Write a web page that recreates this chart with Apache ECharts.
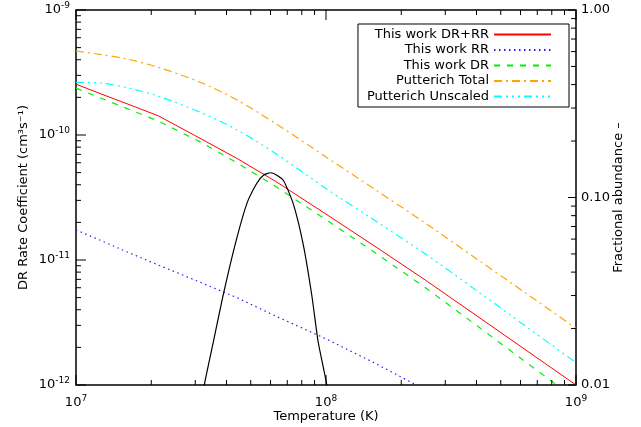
<!DOCTYPE html>
<html>
<head>
<meta charset="utf-8">
<script src="https://cdn.jsdelivr.net/npm/echarts@6/dist/echarts.min.js"></script>
<style>
html,body{margin:0;padding:0;background:#fff;}
#chart{width:641px;height:427px;}
</style>
</head>
<body>
<div id="chart"></div>
<script>
// Temperature grid (K)
const temps = [1e7, 1.26e7, 1.585e7, 2.14e7, 3.16e7, 4.4e7, 6.31e7, 1e8, 1.585e8, 2.51e8, 3.98e8, 6.31e8, 1e9];
// Rate coefficients (cm^3 s^-1)
const thisWorkTotal = [2.55e-10, 2.13e-10, 1.79e-10, 1.42e-10, 9.33e-11, 6.5e-11, 4.24e-11, 2.33e-11, 1.27e-11, 6.86e-12, 3.61e-12, 1.9e-12, 1.0e-12];
const thisWorkRR = [1.74e-11, 1.43e-11, 1.17e-11, 9.1e-12, 6.6e-12, 5.0e-12, 3.55e-12, 2.34e-12, 1.48e-12, 9.1e-13, null, null, null];
const thisWorkDR = [2.37e-10, 1.97e-10, 1.64e-10, 1.29e-10, 8.75e-11, 6.0e-11, 3.86e-11, 2.1e-11, 1.13e-11, 5.97e-12, 3.02e-12, 1.52e-12, 7.7e-13];
const putterichTotal = [4.70e-10, 4.40e-10, 4.07e-10, 3.47e-10, 2.63e-10, 1.91e-10, 1.23e-10, 6.68e-11, 3.62e-11, 1.96e-11, 1.03e-11, 5.41e-12, 2.84e-12];
const putterichUnscaled = [2.64e-10, 2.60e-10, 2.40e-10, 2.04e-10, 1.51e-10, 1.10e-10, 7.08e-11, 3.73e-11, 2.04e-11, 1.11e-11, 5.74e-12, 2.94e-12, 1.51e-12];
// Fractional abundance curve (right axis)
const fracTemps = [3.09e7, 3.26e7, 3.54e7, 3.88e7, 4.33e7, 4.82e7, 5.28e7, 5.62e7, 6.01e7, 6.31e7, 6.75e7, 7.40e7, 8.11e7, 8.77e7, 9.31e7, 1.007e8, 1.047e8];
const fracAbundance = [0.006, 0.010, 0.0169, 0.0302, 0.0561, 0.0925, 0.1187, 0.1315, 0.1355, 0.1324, 0.1235, 0.0925, 0.0561, 0.0302, 0.0169, 0.010, 0.006];
// Tick values
const xMajorTicks = [1e7, 1e8, 1e9];
const xMinorTicks = [2e7,3e7,4e7,5e7,6e7,7e7,8e7,9e7,2e8,3e8,4e8,5e8,6e8,7e8,8e8,9e8];
const yMajorTicks = [1e-12, 1e-11, 1e-10, 1e-9];
const yMinorTicks = [2e-12,3e-12,4e-12,5e-12,6e-12,7e-12,8e-12,9e-12,2e-11,3e-11,4e-11,5e-11,6e-11,7e-11,8e-11,9e-11,2e-10,3e-10,4e-10,5e-10,6e-10,7e-10,8e-10,9e-10];
const fMajorTicks = [0.01, 0.1, 1];
const fMinorTicks = [0.02,0.03,0.04,0.05,0.06,0.07,0.08,0.09,0.2,0.3,0.4,0.5,0.6,0.7,0.8,0.9];

const seriesNames = ['This work DR+RR', 'This work RR', 'This work DR', 'Putterich Total', 'Putterich Unscaled'];

const X_MIN = 1e7, X_MAX = 1e9, Y_MIN = 1e-12, Y_MAX = 1e-9, F_MIN = 0.01, F_MAX = 1;

const FONT = 'DejaVu Sans';
const pair = (xs, ys) => xs.map((x, i) => [x, ys[i]]);
const powLabel = v => '10{sup|' + Math.round(Math.log10(v)) + '}';
const rich = { sup: { fontSize: 9, fontFamily: FONT, color: '#000', verticalAlign: 'bottom', padding: [0, 0, 8, 0] } };
const nameStyle = { fontSize: 13, fontFamily: FONT, color: '#000' };

// Tick marks drawn as a custom series, positioned through the axes' own scales (api.coord)
function tickSeries(data, yAxisIndex, dx, dy) {
  return {
    type: 'custom', xAxisIndex: 0, yAxisIndex: yAxisIndex, silent: true, z: 5, clip: false,
    data: data, encode: { x: 0, y: 1 },
    renderItem: function (params, api) {
      const p = api.coord([api.value(0), api.value(1)]);
      return {
        type: 'line',
        shape: { x1: p[0], y1: p[1], x2: p[0] + dx, y2: p[1] + dy },
        style: { stroke: '#000', lineWidth: 1 }
      };
    }
  };
}

const dashDot = [8, 4, 2, 4];
const dashDotDot = [8, 4, 2, 4, 2, 4, 2, 4];

const option = {
  backgroundColor: '#fff',
  animation: false,
  grid: { left: 76, right: 65, top: 10, bottom: 42, outerBoundsMode: 'none', containLabel: false,
          show: true, borderColor: '#000', borderWidth: 1.5, backgroundColor: 'transparent' },
  legend: {
    orient: 'vertical', right: 72, top: 24, align: 'right',
    data: seriesNames,
    itemWidth: 57, itemHeight: 14, itemGap: 2.5,
    itemStyle: { opacity: 0 },
    padding: [4, 17, 4, 9],
    backgroundColor: '#fff', borderColor: '#000', borderWidth: 1, borderRadius: 0,
    textStyle: { fontSize: 13, fontFamily: FONT, color: '#000' }
  },
  xAxis: [
    {
      type: 'log', min: X_MIN, max: X_MAX, position: 'bottom',
      axisLine: { show: false },
      axisTick: { show: false },
      axisLabel: { formatter: powLabel, rich: rich, margin: 9, color: '#000', fontSize: 13, fontFamily: FONT },
      splitLine: { show: false },
      name: 'Temperature (K)', nameLocation: 'middle', nameGap: 25, nameMoveOverlap: false, nameTextStyle: nameStyle
    }
  ],
  yAxis: [
    {
      type: 'log', min: Y_MIN, max: Y_MAX, position: 'left',
      axisLine: { show: false },
      axisTick: { show: false },
      axisLabel: { formatter: powLabel, rich: rich, margin: 6, color: '#000', fontSize: 13, fontFamily: FONT },
      splitLine: { show: false },
      name: 'DR Rate Coefficient (cm³s⁻¹)', nameLocation: 'middle', nameRotate: 90, nameGap: 46, nameMoveOverlap: false, nameTextStyle: nameStyle
    },
    {
      type: 'log', min: F_MIN, max: F_MAX, position: 'right',
      axisLine: { show: false },
      axisTick: { show: false },
      axisLabel: { formatter: v => v.toFixed(2), margin: 5, color: '#000', fontSize: 13, fontFamily: FONT },
      splitLine: { show: false },
      name: 'Fractional abundance –', nameLocation: 'middle', nameRotate: 90, nameGap: 36, nameMoveOverlap: false, nameTextStyle: nameStyle
    }
  ],
  series: [
    { name: seriesNames[0], type: 'line', xAxisIndex: 0, yAxisIndex: 0, data: pair(temps, thisWorkTotal), symbol: 'none', lineStyle: { color: '#ff0000', width: 1 }, itemStyle: { color: '#ff0000' } },
    { name: seriesNames[1], type: 'line', xAxisIndex: 0, yAxisIndex: 0, data: pair(temps, thisWorkRR), symbol: 'none', lineStyle: { color: '#2020ff', width: 1.2, type: [1.5, 3.5] }, itemStyle: { color: '#2020ff' } },
    { name: seriesNames[2], type: 'line', xAxisIndex: 0, yAxisIndex: 0, data: pair(temps, thisWorkDR), symbol: 'none', lineStyle: { color: '#00ee00', width: 1.2, type: [6, 7] }, itemStyle: { color: '#00ee00' } },
    { name: seriesNames[3], type: 'line', xAxisIndex: 0, yAxisIndex: 0, data: pair(temps, putterichTotal), symbol: 'none', smooth: 0.3, lineStyle: { color: '#ffa500', width: 1.2, type: dashDot }, itemStyle: { color: '#ffa500' } },
    { name: seriesNames[4], type: 'line', xAxisIndex: 0, yAxisIndex: 0, data: pair(temps, putterichUnscaled), symbol: 'none', smooth: 0.3, lineStyle: { color: '#00ffff', width: 1.2, type: dashDotDot }, itemStyle: { color: '#00ffff' } },
    { name: 'Fractional abundance', type: 'line', xAxisIndex: 0, yAxisIndex: 1, data: pair(fracTemps, fracAbundance), symbol: 'none', smooth: 0.2, lineStyle: { color: '#000', width: 1.2 }, itemStyle: { color: '#000' } },
    // bottom / top ticks
    tickSeries(xMajorTicks.map(v => [v, Y_MIN]), 0, 0, -10),
    tickSeries(xMinorTicks.map(v => [v, Y_MIN]), 0, 0, -5),
    tickSeries(xMajorTicks.map(v => [v, Y_MAX]), 0, 0, 10),
    tickSeries(xMinorTicks.map(v => [v, Y_MAX]), 0, 0, 5),
    // left ticks
    tickSeries(yMajorTicks.map(v => [X_MIN, v]), 0, 10, 0),
    tickSeries(yMinorTicks.map(v => [X_MIN, v]), 0, 5, 0),
    // right ticks
    tickSeries(fMajorTicks.map(v => [X_MAX, v]), 1, -8, 0),
    tickSeries(fMinorTicks.map(v => [X_MAX, v]), 1, -5, 0)
  ]
};

const chart = echarts.init(document.getElementById('chart'));
chart.setOption(option);
</script>
</body>
</html>
